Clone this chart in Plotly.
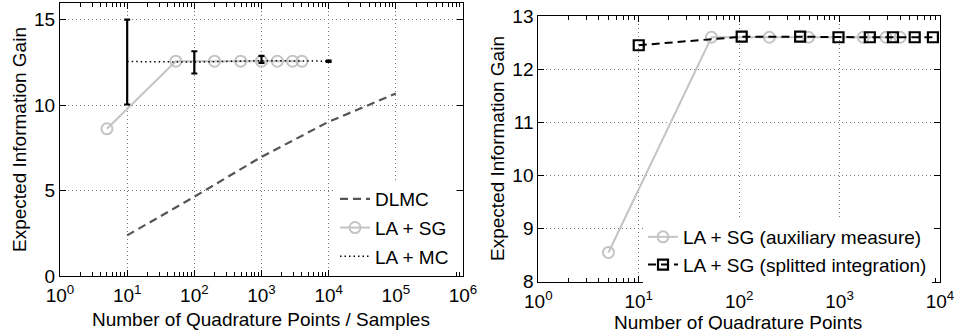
import plotly.graph_objects as go

# ---------------- data ----------------
# Left panel
dlmc_x = [10, 100, 1000, 10000, 100000]
dlmc_y = [2.39, 4.65, 6.98, 9.03, 10.68]

lasg_x = [5, 53, 200, 490, 1000, 1720, 2900, 4000]
lasg_y = [8.62, 12.57, 12.57, 12.57, 12.57, 12.57, 12.57, 12.57]

lamc_x = [10, 100, 1000, 10000]
lamc_y = [12.55, 12.52, 12.6, 12.57]
lamc_err_plus = [2.45, 0.63, 0.28, 0.04]
lamc_err_minus = [2.51, 0.67, 0.13, 0.04]

# Right panel
aux_x = [5, 53, 200, 490, 1720, 2900, 4000]
aux_y = [8.55, 12.6, 12.6, 12.6, 12.6, 12.6, 12.6]

split_x = [10, 106, 405, 975, 2000, 3400, 5600, 8500]
split_y = [12.45, 12.61, 12.61, 12.6, 12.6, 12.6, 12.6, 12.6]

# tick labels
left_xtick_vals = [1, 10, 100, 1000, 10000, 100000, 1000000]
left_xtick_text = ["10<sup>0</sup>", "10<sup>1</sup>", "10<sup>2</sup>", "10<sup>3</sup>",
                   "10<sup>4</sup>", "10<sup>5</sup>", "10<sup>6</sup>"]
right_xtick_vals = [1, 10, 100, 1000, 10000]
right_xtick_text = ["10<sup>0</sup>", "10<sup>1</sup>", "10<sup>2</sup>", "10<sup>3</sup>",
                    "10<sup>4</sup>"]
left_ytick_vals = [0, 5, 10, 15]
right_ytick_vals = [8, 9, 10, 11, 12, 13]

FONT = "Liberation Sans, Arial, Helvetica, sans-serif"
FS = 19
GRAY = "#c4c4c4"

fig = go.Figure()

fig.add_trace(go.Scatter(
    x=dlmc_x, y=dlmc_y, mode="lines", name="DLMC", legendgroup="a",
    line=dict(color="#555555", width=2.2, dash="8px,5px"),
    xaxis="x", yaxis="y", legend="legend"))

fig.add_trace(go.Scatter(
    x=lasg_x, y=lasg_y, mode="lines+markers", name="LA + SG", legendgroup="b",
    line=dict(color=GRAY, width=2),
    marker=dict(symbol="circle-open", size=11, color=GRAY, line=dict(width=2, color=GRAY)),
    xaxis="x", yaxis="y", legend="legend"))

fig.add_trace(go.Scatter(
    x=lamc_x, y=lamc_y, mode="lines", name="LA + MC", legendgroup="c",
    line=dict(color="black", width=1.5, dash="1.5px,3px"),
    error_y=dict(type="data", symmetric=False, array=lamc_err_plus,
                 arrayminus=lamc_err_minus, color="black", thickness=2.2, width=3),
    xaxis="x", yaxis="y", legend="legend"))

fig.add_trace(go.Scatter(
    x=aux_x, y=aux_y, mode="lines+markers", name="LA + SG (auxiliary measure)",
    legendgroup="d",
    line=dict(color=GRAY, width=2),
    marker=dict(symbol="circle-open", size=11, color=GRAY, line=dict(width=2, color=GRAY)),
    xaxis="x2", yaxis="y2", legend="legend2"))

fig.add_trace(go.Scatter(
    x=split_x, y=split_y, mode="lines+markers", name="LA + SG (splitted integration)",
    legendgroup="e",
    line=dict(color="black", width=2, dash="8px,5px"),
    marker=dict(symbol="square-open", size=10, color="black", line=dict(width=2.2, color="black")),
    xaxis="x2", yaxis="y2", legend="legend2"))


def minor_vals(nmax):
    return [m * 10 ** k for k in range(nmax) for m in range(2, 10)]


common_axis = dict(
    showline=True, linecolor="black", linewidth=1, mirror="ticks",
    ticks="inside", ticklen=6, tickcolor="black", tickwidth=1,
    showgrid=True, gridcolor="#777777", gridwidth=1, griddash="1px,3px",
    zeroline=False, tickfont=dict(family=FONT, size=FS, color="black"),
    automargin=False, ticklabeloverflow="allow",
)

fig.update_layout(
    width=954, height=330,
    margin=dict(l=0, r=0, t=0, b=0),
    paper_bgcolor="white", plot_bgcolor="white",
    font=dict(family=FONT, size=FS, color="black"),
    xaxis=dict(common_axis, type="log", domain=[60 / 954, 463 / 954], range=[0, 6],
               tickmode="array", tickvals=left_xtick_vals, ticktext=left_xtick_text,
               ticklabelstandoff=2,
               minor=dict(tickmode="array", tickvals=minor_vals(6), ticks="inside",
                          ticklen=4, tickcolor="black", tickwidth=1, showgrid=False),
               anchor="y"),
    yaxis=dict(common_axis, domain=[1 - 276.3 / 330, 1 - 2.5 / 330], range=[0, 16],
               tickmode="array", tickvals=left_ytick_vals, anchor="x"),
    xaxis2=dict(common_axis, type="log", domain=[538.3 / 954, 940 / 954], range=[0, 4],
                tickmode="array", tickvals=right_xtick_vals, ticktext=right_xtick_text,
                ticklabelstandoff=2,
                minor=dict(tickmode="array", tickvals=minor_vals(4), ticks="inside",
                           ticklen=4, tickcolor="black", tickwidth=1, showgrid=False),
                anchor="y2"),
    yaxis2=dict(common_axis, domain=[1 - 281.7 / 330, 1 - 16 / 330], range=[8, 13],
                tickmode="array", tickvals=right_ytick_vals, anchor="x2"),
    legend=dict(x=335 / 954, xanchor="left", y=1 - 180 / 330, yanchor="top",
                bgcolor="white", borderwidth=0, tracegroupgap=1,
                font=dict(family=FONT, size=FS)),
    legend2=dict(x=643 / 954, xanchor="left", y=1 - 218 / 330, yanchor="top",
                 bgcolor="white", borderwidth=0, tracegroupgap=0,
                 font=dict(family=FONT, size=FS)),
    showlegend=True,
)

annotations = [
    dict(text="Number of Quadrature Points / Samples", x=261 / 954, y=1 - 319 / 330),
    dict(text="Number of Quadrature Points", x=738 / 954, y=1 - 322 / 330),
    dict(text="Expected Information Gain", x=19.5 / 954, y=1 - 139.5 / 330, textangle=-90),
    dict(text="Expected Information Gain", x=497 / 954, y=1 - 149 / 330, textangle=-90),
]
for a in annotations:
    fig.add_annotation(xref="paper", yref="paper", showarrow=False,
                       xanchor="center", yanchor="middle",
                       font=dict(family=FONT, size=FS, color="black"), **a)

fig.write_html("out.html")
